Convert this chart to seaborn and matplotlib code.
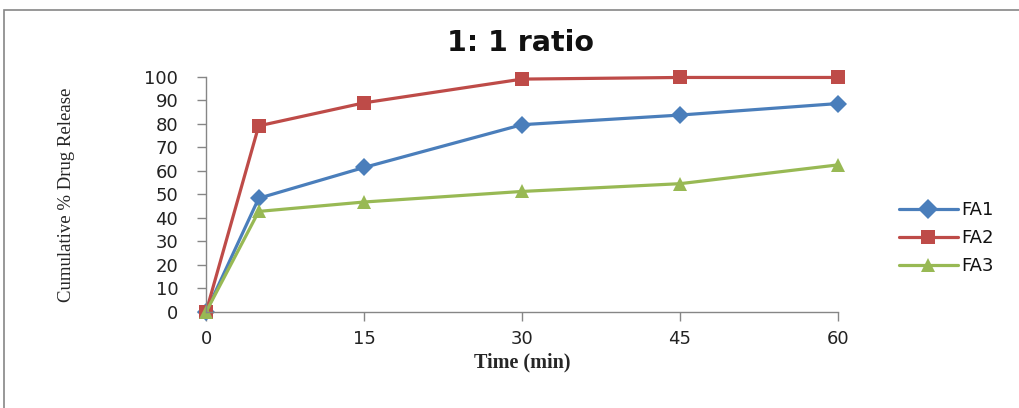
import numpy as np
import pandas as pd
import matplotlib
matplotlib.use("Agg")
import matplotlib.pyplot as plt
import seaborn as sns
from matplotlib.patches import Rectangle

# --- data ---
time_min = [0, 5, 15, 30, 45, 60]
fa1 = [0, 48.4, 61.5, 79.7, 83.8, 88.7]
fa2 = [0, 79.2, 89.0, 99.1, 99.8, 99.8]
fa3 = [0, 42.8, 46.8, 51.3, 54.6, 62.6]
series_names = ["FA1", "FA2", "FA3"]
colors = ["#4A7EBB", "#BE4B48", "#98B954"]
markers = ["D", "s", "^"]

df = pd.DataFrame({
    "Time": time_min * 3,
    "Release": fa1 + fa2 + fa3,
    "Formulation": np.repeat(series_names, len(time_min)),
})

sns.set_style("white")
plt.rcParams["font.family"] = ["DejaVu Sans"]

fig = plt.figure(figsize=(10.2, 4.08), dpi=100)
ax = fig.add_axes([0.202, 0.2353, 0.6196, 0.576])

sns.lineplot(data=df, x="Time", y="Release", hue="Formulation",
             style="Formulation", markers=markers, dashes=False,
             palette=colors, linewidth=2.3, markersize=10.5,
             markeredgewidth=0, ax=ax)

for line in ax.lines:
    line.set_clip_on(False)
ax.lines[0].set_markersize(9)

ax.set_xlim(0, 60)
ax.set_ylim(0, 100)
ax.set_xticks([0, 15, 30, 45, 60])
ax.set_yticks(range(0, 101, 10))
ax.tick_params(axis="both", direction="out", length=6.5, width=1,
               left=True, bottom=True,
               color="#868686", labelsize=13, labelcolor="#222222")
ax.tick_params(axis="y", pad=13.5)
ax.tick_params(axis="x", pad=6.5)
for s in ["top", "right"]:
    ax.spines[s].set_visible(False)
for s in ["left", "bottom"]:
    ax.spines[s].set_color("#868686")
    ax.spines[s].set_linewidth(1)

ax.set_xlabel("Time (min)", family="Liberation Serif", fontweight="bold",
              fontsize=14.5, labelpad=3)
ax.set_ylabel("Cumulative % Drug Release", family="Liberation Serif",
              fontsize=13.5, labelpad=50)
fig.suptitle("1: 1 ratio", x=0.51, y=0.93, fontsize=20.5, fontweight="bold",
             family="DejaVu Sans", color="#111111")

handles, labels = ax.get_legend_handles_labels()
leg = ax.legend(handles, labels, loc="center left", bbox_to_anchor=(1.07, 0.315),
                frameon=False, fontsize=13, handlelength=3.3,
                labelspacing=0.55, handletextpad=0.2)
for t in leg.get_texts():
    t.set_color("#111111")

# chart-area border
fig.patches.append(Rectangle((0.004, -0.1), 1.2, 1.075, transform=fig.transFigure,
                             fill=False, edgecolor="#868686", linewidth=1.2))

fig.savefig("out.png", dpi=100)
